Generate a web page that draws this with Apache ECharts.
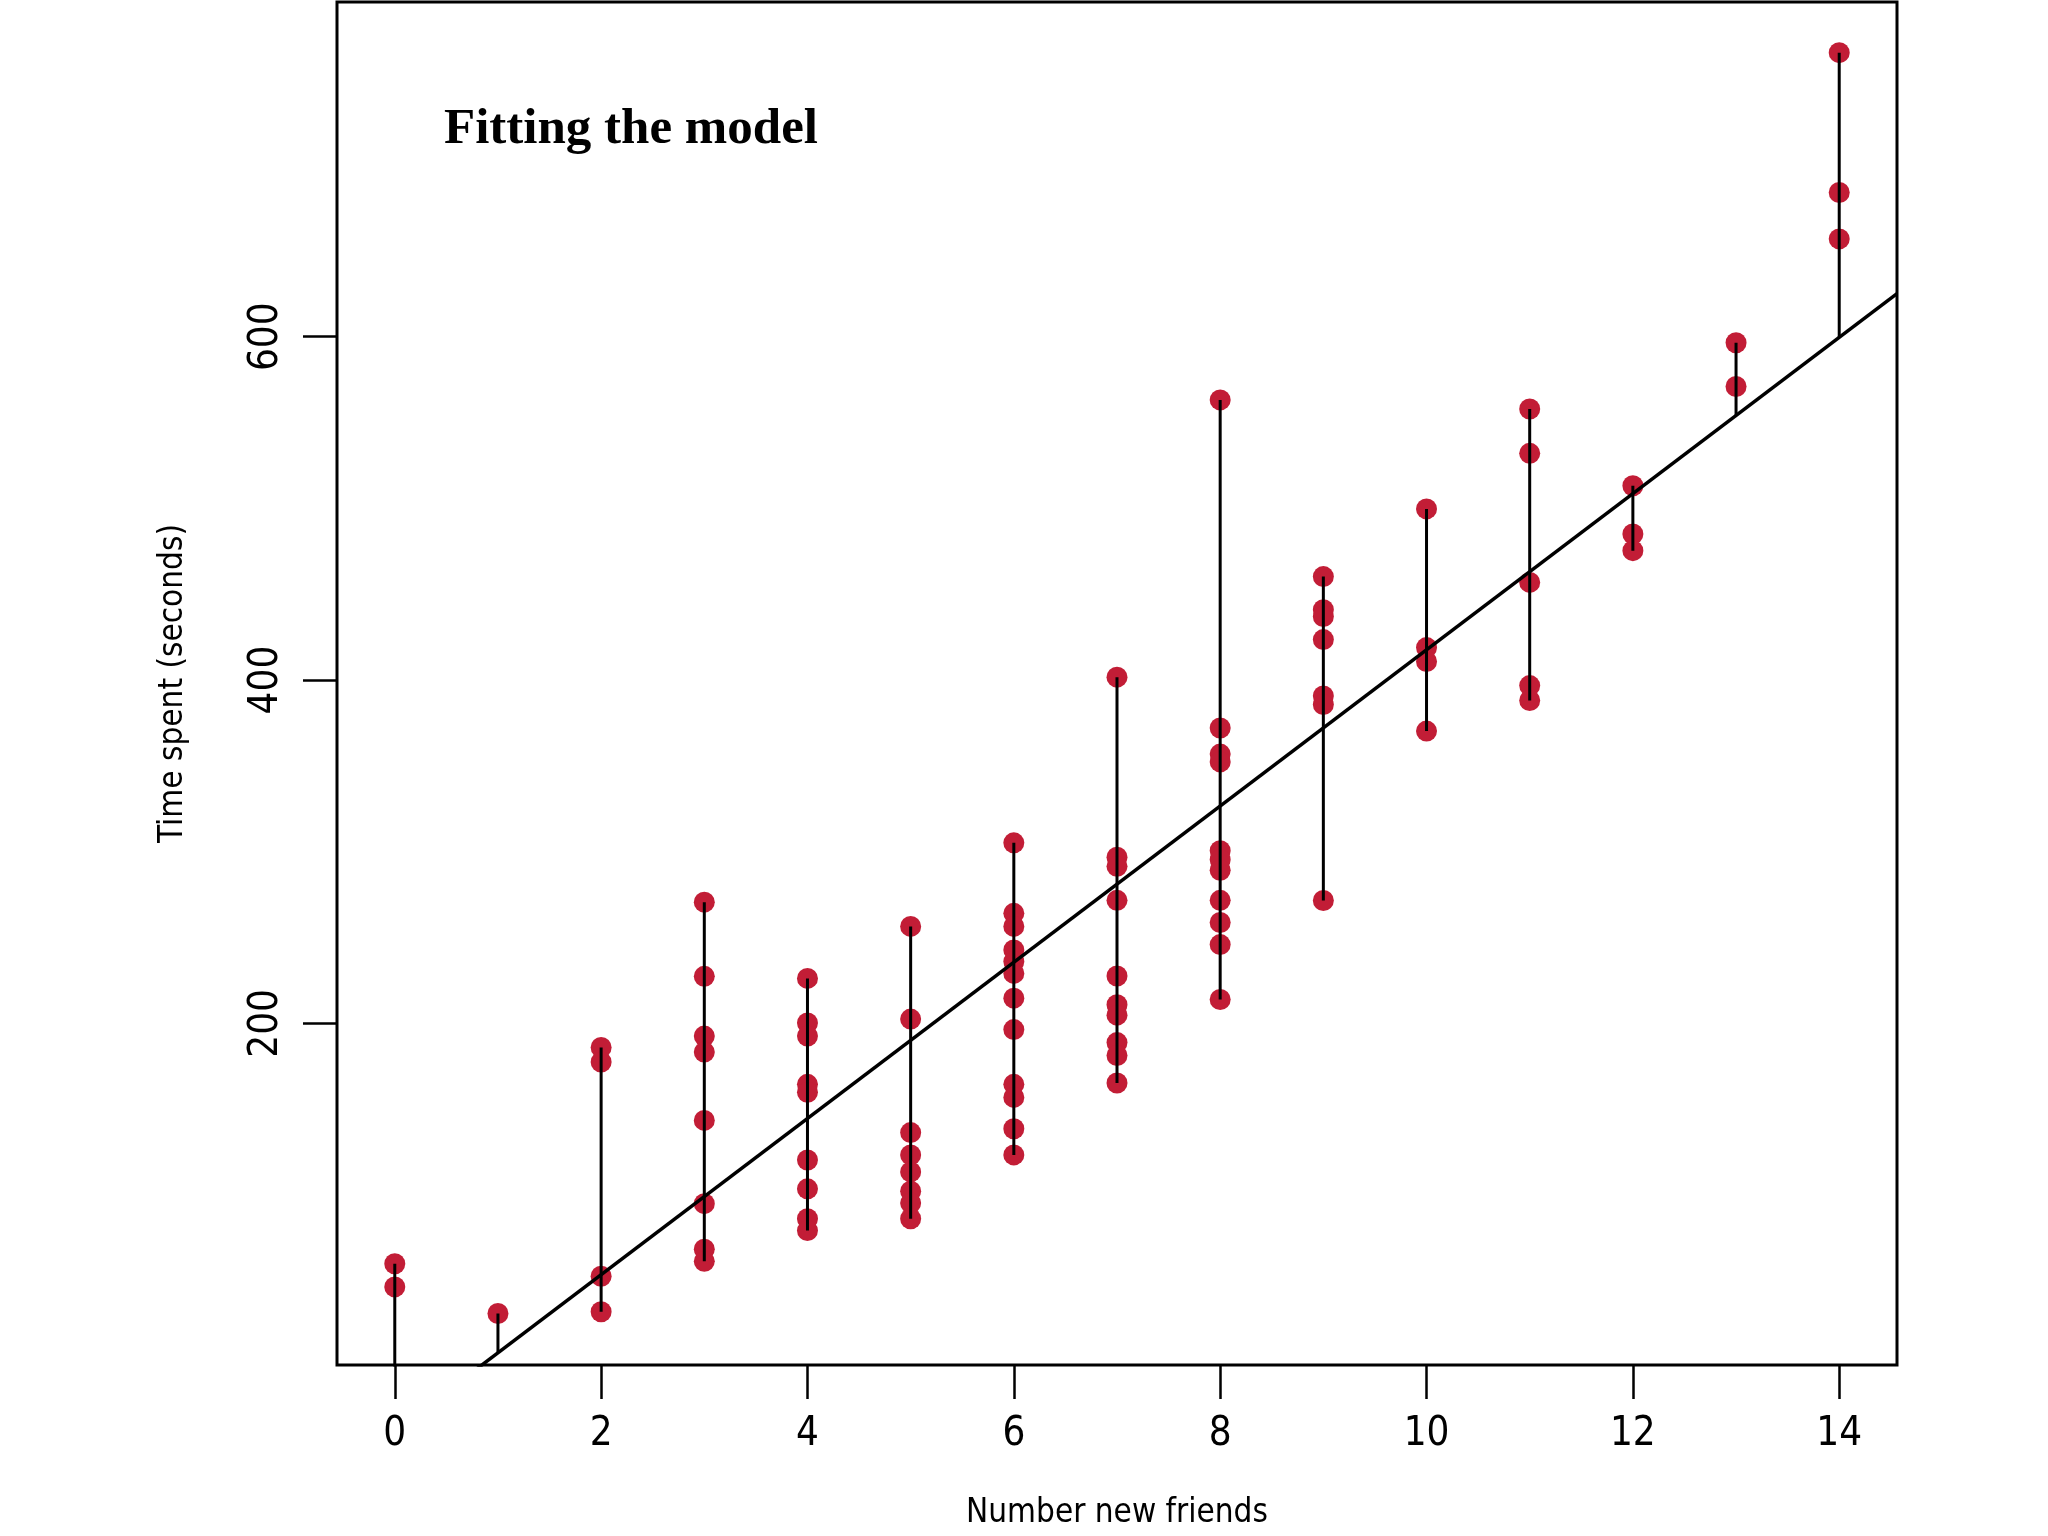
<!DOCTYPE html>
<html>
<head>
<meta charset="utf-8">
<script src="https://cdn.jsdelivr.net/npm/echarts@6/dist/echarts.min.js"></script>
<style>
  html, body { margin: 0; padding: 0; background: #fff; }
  #chart { width: 2048px; height: 1536px; }
</style>
</head>
<body>
<div id="chart"></div>
<script>
// ---- Data ----
const friendCounts = [0, 1, 2, 3, 4, 5, 6, 7, 8, 9, 10, 11, 12, 13, 14];
const timeAt0  = [60, 46.5];
const timeAt1  = [31];
const timeAt2  = [186, 177.5, 52.7, 32];
const timeAt3  = [270.6, 227.4, 192.6, 183.3, 143.5, 95, 68.4, 61.4];
const timeAt4  = [226.2, 200.2, 192.6, 164.5, 159.9, 120.4, 103.6, 86.2, 79.3];
const timeAt5  = [256.5, 202.5, 136.4, 123.4, 113.5, 102.2, 95.3, 86.2];
const timeAt6  = [305.2, 264.1, 256.5, 242.8, 236.0, 229.1, 214.7, 196.4, 164.5, 156.9, 138.6, 123.4];
const timeAt7  = [401.7, 296.8, 291.5, 271.7, 227.6, 210.9, 204.8, 188.8, 181.3, 165.3];
const timeAt8  = [563.2, 372.1, 356.9, 352.3, 300.6, 295.3, 289.2, 271.7, 258.8, 245.9, 213.9];
const timeAt9  = [460.3, 441, 437, 423.6, 390.7, 385.7, 271.6];
const timeAt10 = [499.7, 418.9, 410.8, 370.3];
const timeAt11 = [557.9, 532.1, 456.9, 396.8, 388.1];
const timeAt12 = [513.2, 485.1, 475.4];
const timeAt13 = [596.5, 571];
const timeAt14 = [765.5, 684, 657];

// fitted model
const fitIntercept = -37.4;
const fitSlope = 45.5;

// axes
const xTicks = [0, 2, 4, 6, 8, 10, 12, 14];
const yTicks = [200, 400, 600];
const xMin = -0.56, xMax = 14.56;
const yMin = 1, yMax = 795;

const titleText = 'Fitting the model';
const xName = 'Number new friends';
const yName = 'Time spent (seconds)';

// ---- Build series ----
const groups = [timeAt0, timeAt1, timeAt2, timeAt3, timeAt4, timeAt5, timeAt6, timeAt7,
                timeAt8, timeAt9, timeAt10, timeAt11, timeAt12, timeAt13, timeAt14];
const fit = x => fitIntercept + fitSlope * x;

const points = [];
groups.forEach((g, i) => g.forEach(v => points.push([friendCounts[i], v])));

const sansFont = "'Liberation Sans Narrow', 'DejaVu Sans Condensed', 'Roboto Condensed', 'Liberation Sans', sans-serif";
const serifFont = "'Liberation Serif', 'Times New Roman', serif";

const residualSeries = groups.map((g, i) => {
  const x = friendCounts[i];
  const f = fit(x);
  const lo = Math.min(f, ...g);
  const hi = Math.max(f, ...g);
  return {
    type: 'line',
    data: [[x, lo], [x, hi]],
    symbol: 'none',
    clip: true,
    silent: true,
    z: 3,
    lineStyle: { color: '#000', width: 3 }
  };
});

const chart = echarts.init(document.getElementById('chart'), null, { renderer: 'canvas' });
chart.setOption({
  backgroundColor: '#ffffff',
  animation: false,
  title: {
    text: titleText,
    left: 439,
    top: 99,
    textStyle: { fontFamily: serifFont, fontWeight: 'bold', fontSize: 51, color: '#000' }
  },
  grid: {
    left: 337, right: 151, top: 2, bottom: 171,
    show: true, borderColor: '#000', borderWidth: 3, backgroundColor: 'transparent'
  },
  xAxis: {
    type: 'value', min: xMin, max: xMax,
    splitLine: { show: false },
    axisLine: { show: false, onZero: false },
    axisTick: { show: true, inside: false, length: 34, customValues: xTicks, lineStyle: { color: '#000', width: 2.5 } },
    axisLabel: { customValues: xTicks, margin: 50, fontSize: 40, color: '#000', fontFamily: sansFont },
    name: xName, nameLocation: 'middle', nameGap: 132,
    nameTextStyle: { fontSize: 33, color: '#000', fontFamily: sansFont }
  },
  yAxis: {
    type: 'value', min: yMin, max: yMax,
    splitLine: { show: false },
    axisLine: { show: false, onZero: false },
    axisTick: { show: true, inside: false, length: 34, customValues: yTicks, lineStyle: { color: '#000', width: 2.5 } },
    axisLabel: { customValues: yTicks, rotate: 90, margin: 50, fontSize: 40, color: '#000', fontFamily: sansFont },
    name: yName, nameLocation: 'middle', nameGap: 147,
    nameTextStyle: { fontSize: 33, color: '#000', fontFamily: sansFont }
  },
  series: [
    {
      type: 'scatter',
      data: points,
      symbol: 'circle',
      symbolSize: 21,
      silent: true,
      z: 2,
      itemStyle: { color: '#c21d36', opacity: 1 }
    },
    ...residualSeries,
    {
      type: 'line',
      data: [[xMin, fit(xMin)], [xMax, fit(xMax)]],
      symbol: 'none',
      clip: true,
      silent: true,
      z: 4,
      lineStyle: { color: '#000', width: 3.5 }
    }
  ]
});
</script>
</body>
</html>
